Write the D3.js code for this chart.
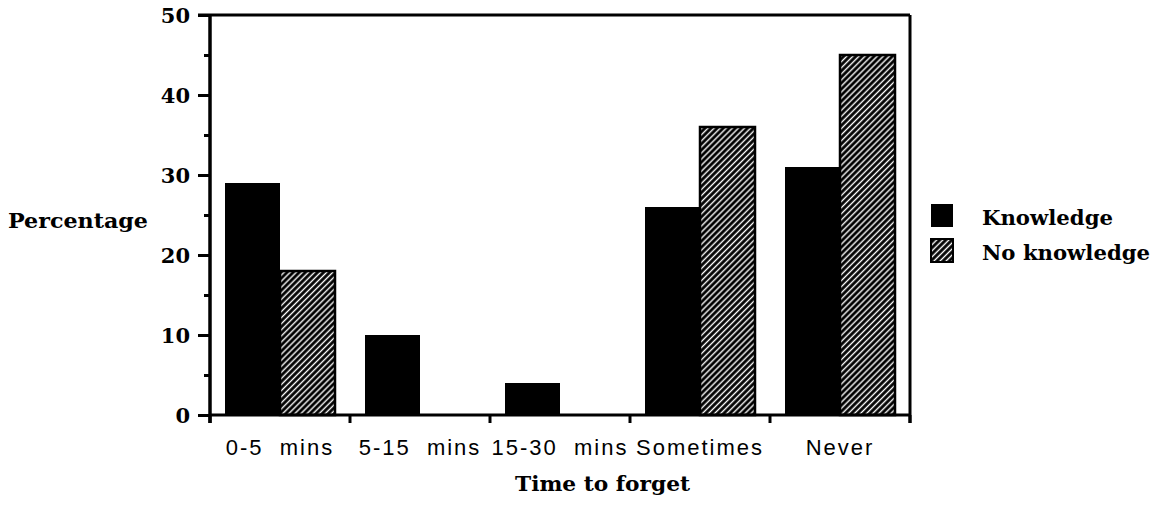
<!DOCTYPE html>
<html><head><meta charset="utf-8">
<script src="https://cdn.jsdelivr.net/npm/d3@7"></script>
<style>
body{margin:0;background:#fff;}
svg{display:block;}
.serif{font-family:"DejaVu Serif","Liberation Serif",serif;fill:#000;font-weight:bold;}
.sans{font-family:"Liberation Sans",Arial,sans-serif;fill:#000;white-space:pre;}
</style></head>
<body>
<svg id="c" width="1165" height="505"></svg>
<script>
const categories = ["0-5  mins", "5-15  mins", "15-30  mins", "Sometimes", "Never"];
const seriesNames = ["Knowledge", "No knowledge"];
const knowledge = [29, 10, 4, 26, 31];
const noKnowledge = [18, 0, 0, 36, 45];
const yMajorTicks = [0, 10, 20, 30, 40, 50];
const yMinorTicks = [5, 15, 25, 35, 45];

const svg = d3.select("#c");
const defs = svg.append("defs");
const P = 4.3;
const pat = defs.append("pattern").attr("id","hatch").attr("patternUnits","userSpaceOnUse")
  .attr("width",P).attr("height",P).attr("patternTransform","rotate(45)");
pat.append("rect").attr("width",P).attr("height",P).attr("fill","#000");
pat.append("line").attr("x1",P/2).attr("y1",0).attr("x2",P/2).attr("y2",P)
  .attr("stroke","#fff").attr("stroke-width",1.4);

const L=210, R=910, T=15, B=415;
const x = d3.scaleBand().domain(categories).range([L,R]).padding(0);
const xs = d3.scaleBand().domain(seriesNames).range([15,125]).padding(0);
const y = d3.scaleLinear().domain([0,50]).range([B,T]);

const data = categories.map((c,i)=>({cat:c, vals:[knowledge[i], noKnowledge[i]]}));
const fills = ["#000","url(#hatch)"];

const g = svg.append("g");
data.forEach(d=>{
  d.vals.forEach((v,j)=>{
    if(v<=0) return;
    g.append("rect")
      .attr("x", x(d.cat)+xs(seriesNames[j]))
      .attr("y", y(v))
      .attr("width", xs.bandwidth())
      .attr("height", y(0)-y(v))
      .attr("fill", fills[j])
      .attr("stroke","#000").attr("stroke-width", j===1?2.5:0);
  });
});

// frame: top and right border
svg.append("line").attr("x1",L-12).attr("x2",R).attr("y1",T).attr("y2",T).attr("stroke","#000").attr("stroke-width",3);
svg.append("line").attr("x1",R).attr("x2",R).attr("y1",T).attr("y2",B+8).attr("stroke","#000").attr("stroke-width",3);

// y axis
const yAxis = d3.axisLeft(y).tickValues(yMajorTicks).tickSize(12).tickPadding(8).tickFormat(d3.format("d"));
const ya = svg.append("g").attr("transform",`translate(${L},0)`).call(yAxis);
ya.select(".domain").remove();
ya.selectAll(".tick line").attr("stroke","#000").attr("stroke-width",3);
ya.selectAll(".tick text").attr("class","serif").style("font-size","21px").attr("dy","0.35em");
const yMinor = d3.axisLeft(y).tickValues(yMinorTicks).tickSize(6).tickFormat("");
const ym = svg.append("g").attr("transform",`translate(${L},0)`).call(yMinor);
ym.select(".domain").remove();
ym.selectAll(".tick line").attr("stroke","#000").attr("stroke-width",3);
svg.append("line").attr("x1",L).attr("x2",L).attr("y1",T).attr("y2",B+8).attr("stroke","#000").attr("stroke-width",3.5);

// x axis
svg.append("line").attr("x1",L).attr("x2",R).attr("y1",B).attr("y2",B).attr("stroke","#000").attr("stroke-width",3);
const xTickPos = categories.map(c=>x(c)).concat([R]);
svg.append("g").selectAll("line").data(xTickPos).join("line")
  .attr("x1",d=>d).attr("x2",d=>d).attr("y1",B).attr("y2",B+8).attr("stroke","#000").attr("stroke-width",3);
svg.append("g").selectAll("text").data(categories).join("text")
  .attr("class","sans")
  .attr("x",d=>x(d)+x.bandwidth()/2).attr("y",455)
  .attr("text-anchor","middle")
  .style("font-size","22px").style("letter-spacing","2px")
  .text(d=>d);

// axis titles
svg.append("text").attr("class","serif").attr("x",8).attr("y",228)
  .attr("textLength",140).attr("lengthAdjust","spacingAndGlyphs")
  .style("font-size","21px").text("Percentage");
svg.append("text").attr("class","serif").attr("x",515).attr("y",491)
  .attr("textLength",175).attr("lengthAdjust","spacingAndGlyphs")
  .style("font-size","21px").text("Time to forget");

// legend
const lg = svg.append("g");
seriesNames.forEach((s,i)=>{
  const yy = 204 + i*35;
  lg.append("rect").attr("x",931).attr("y",yy).attr("width",22).attr("height",23)
    .attr("fill",fills[i]).attr("stroke","#000").attr("stroke-width",i===1?2:0);
  lg.append("text").attr("class","serif").attr("x",982).attr("y",yy+21)
    .attr("textLength",i===0?131:168).attr("lengthAdjust","spacingAndGlyphs")
    .style("font-size","21px").text(s);
});
</script>
</body></html>
